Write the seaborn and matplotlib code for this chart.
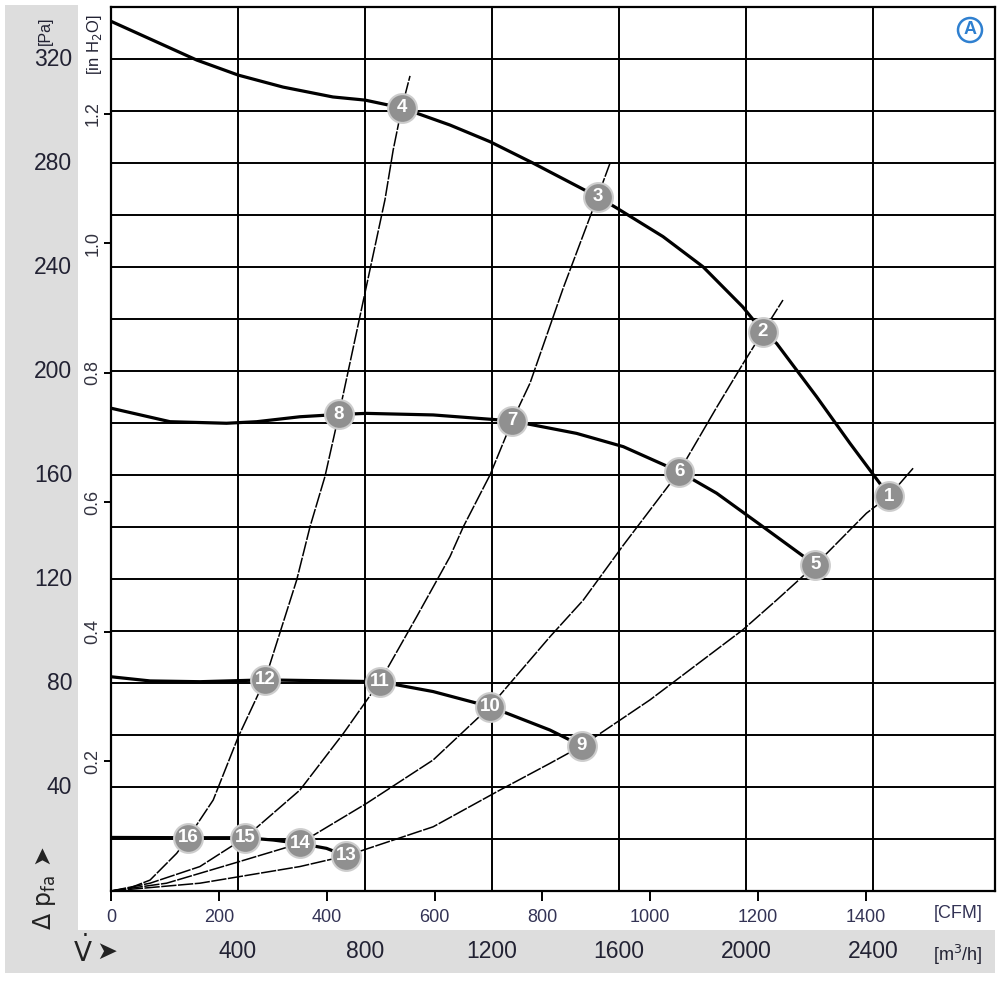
import matplotlib
matplotlib.use("Agg")
import matplotlib.pyplot as plt
import matplotlib.transforms as mtransforms
from matplotlib.patches import Rectangle, Circle
import seaborn as sns
import pandas as pd

sns.set_theme(style="white")
plt.rcParams["font.family"] = ["Liberation Sans Narrow", "Liberation Sans", "DejaVu Sans"]

# ---------------- data ----------------
# fan characteristic curves: flow [m3/h], static pressure [Pa]
main1_flow = [0, 270, 401, 542, 699, 800, 916, 1068, 1194, 1329, 1533, 1593, 1739, 1865, 1990, 2054, 2097, 2223, 2328, 2422, 2451]
main1_pa = [334.5, 319.6, 313.8, 309.2, 305.4, 304.2, 301.2, 294.6, 288.2, 280.0, 267.0, 262.7, 251.7, 240.1, 224.7, 215.1, 210.6, 190.1, 172.2, 156.8, 151.9]

main2_flow = [0, 186, 364, 459, 595, 718, 805, 1015, 1264, 1467, 1614, 1790, 1908, 2054, 2219]
main2_pa = [185.7, 180.5, 179.9, 180.5, 182.4, 183.3, 183.7, 183.1, 180.8, 176.0, 170.9, 161.3, 153.0, 140.1, 125.4]

main3_flow = [0, 123, 280, 485, 700, 847, 1015, 1194, 1383, 1483]
main3_pa = [82.4, 80.8, 80.5, 81.2, 80.8, 80.5, 76.7, 70.9, 61.9, 55.8]

main4_flow = [0, 243, 422, 511, 595, 679, 740]
main4_pa = [20.6, 20.5, 20.5, 19.6, 18.3, 16.4, 13.5]

# system (resistance) curves
sys1_flow = [0, 60, 123, 207, 243, 322, 401, 485, 585, 627, 674, 718, 863, 889, 916, 942]
sys1_pa = [0, 1.2, 4.2, 14.5, 20.5, 35.0, 59.3, 81.2, 119.6, 140.1, 159.4, 183.3, 265.8, 285.0, 301.2, 313.5]

sys2_flow = [0, 123, 280, 422, 595, 732, 847, 963, 1068, 1110, 1194, 1264, 1320, 1425, 1533, 1572]
sys2_pa = [0, 3.0, 9.4, 20.5, 38.8, 60.6, 80.5, 105.5, 128.6, 140.1, 160.0, 180.8, 195.3, 232.0, 267.0, 279.9]

sys3_flow = [0, 175, 385, 595, 805, 1015, 1194, 1383, 1488, 1614, 1790, 1908, 1992, 2054, 2117]
sys3_pa = [0, 3.0, 10.6, 18.3, 33.7, 50.4, 70.9, 97.8, 111.9, 133.0, 161.3, 186.0, 203.0, 215.1, 227.3]

sys4_flow = [0, 280, 595, 740, 1015, 1225, 1383, 1483, 1698, 1990, 2097, 2219, 2380, 2451, 2527]
sys4_pa = [0, 3.0, 9.4, 13.5, 24.7, 38.8, 49.1, 55.8, 73.5, 100.4, 111.9, 125.4, 145.3, 151.9, 162.6]

# operating points
pt_labels = ["1", "2", "3", "4", "5", "6", "7", "8", "9", "10", "11", "12", "13", "14", "15", "16"]
pt_flow = [2451, 2054, 1533, 916, 2219, 1790, 1264, 718, 1483, 1194, 847, 485, 740, 595, 422, 243]
pt_pa = [151.9, 215.1, 267.0, 301.2, 125.4, 161.3, 180.8, 183.3, 55.8, 70.9, 80.5, 81.2, 13.5, 18.3, 20.5, 20.5]

# axes ticks / labels
m3h_ticks = [400, 800, 1200, 1600, 2000, 2400]
pa_grid = [20, 40, 60, 80, 100, 120, 140, 160, 180, 200, 220, 240, 260, 280, 300, 320]
pa_labels = [40, 80, 120, 160, 200, 240, 280, 320]
cfm_ticks = [0, 200, 400, 600, 800, 1000, 1200, 1400]
inh2o_ticks = [0.2, 0.4, 0.6, 0.8, 1.0, 1.2]
M3H_PER_CFM = 1.699
PA_PER_INH2O = 249.09

# ---------------- figure ----------------
fig = plt.figure(figsize=(10, 10), dpi=100)
fig.patch.set_facecolor("white")
gray = "#dddddd"
fig.patches.append(Rectangle((0.005, 0.070), 0.073, 0.925, transform=fig.transFigure,
                             facecolor=gray, edgecolor="none", zorder=-10))
fig.patches.append(Rectangle((0.005, 0.027), 0.990, 0.043, transform=fig.transFigure,
                             facecolor=gray, edgecolor="none", zorder=-10))

ax = fig.add_axes([0.111, 0.109, 0.884, 0.884])
ax.set_facecolor("white")
ax.set_xlim(0, 2785)
ax.set_ylim(0, 340)
ax.set_xticks(m3h_ticks)
ax.set_yticks(pa_grid)
ax.grid(True, color="black", linewidth=1.4, zorder=1)
ax.tick_params(length=0, labelbottom=False, labelleft=False)
for s in ax.spines.values():
    s.set_color("black")
    s.set_linewidth(1.6)
ax.set_axisbelow(True)

sysstyle = dict(color="black", linewidth=1.1, dashes=(10, 1.0), estimator=None, sort=False, zorder=2)
for fx, fy in [(sys1_flow, sys1_pa), (sys2_flow, sys2_pa), (sys3_flow, sys3_pa), (sys4_flow, sys4_pa)]:
    sns.lineplot(x=fx, y=fy, ax=ax, **sysstyle)

for fx, fy in [(main1_flow, main1_pa), (main2_flow, main2_pa), (main3_flow, main3_pa), (main4_flow, main4_pa)]:
    sns.lineplot(x=fx, y=fy, ax=ax, color="black", linewidth=2.3, estimator=None, sort=False, zorder=3)

pts = pd.DataFrame({"flow": pt_flow, "pa": pt_pa, "label": pt_labels})
sns.scatterplot(data=pts, x="flow", y="pa", ax=ax, s=430, color="#909090",
                edgecolor="#cdcdcd", linewidth=1.5, zorder=5, legend=False)
for _, r in pts.iterrows():
    ax.text(r["flow"], r["pa"], r["label"], ha="center", va="center", color="white",
            fontsize=13.5, fontweight="bold", zorder=6)
ax.set_xlabel("")
ax.set_ylabel("")

# Pa labels in the gray strip
tr_y = mtransforms.blended_transform_factory(ax.transAxes, ax.transData)
for v in pa_labels:
    ax.text(-0.044, v, str(v), transform=tr_y, ha="right", va="center",
            fontsize=16.5, color="#222233", zorder=20)

# m3/h labels in the bottom gray strip
tr_x = mtransforms.blended_transform_factory(ax.transData, fig.transFigure)
for v in m3h_ticks:
    ax.text(v, 0.048, str(v), transform=tr_x, ha="center", va="center",
            fontsize=16.5, color="#222233", zorder=20)

# secondary CFM axis
secx = ax.secondary_xaxis("bottom", functions=(lambda m: m / M3H_PER_CFM, lambda c: c * M3H_PER_CFM))
secx.set_xticks(cfm_ticks)
secx.set_xticklabels([str(c) for c in cfm_ticks])
secx.tick_params(direction="out", length=7, width=1.4, pad=6, labelsize=13,
                 labelcolor="#333355", color="black")
secx.spines["bottom"].set_visible(False)

# secondary in H2O axis
secy = ax.secondary_yaxis("left", functions=(lambda p: p / PA_PER_INH2O, lambda i: i * PA_PER_INH2O))
secy.set_yticks(inh2o_ticks)
secy.set_yticklabels([f"{v:.1f}" for v in inh2o_ticks], rotation=90, va="center")
secy.tick_params(direction="out", length=5, width=1.4, pad=2, labelsize=13,
                 labelcolor="#333340", color="black")
secy.spines["left"].set_visible(False)

# unit / axis texts
fig.text(0.958, 0.087, "[CFM]", ha="center", va="center", fontsize=13, color="#333355")
fig.text(0.958, 0.045, "[m$^3$/h]", ha="center", va="center", fontsize=13, color="#222233")
fig.text(0.045, 0.969, "[Pa]", ha="center", va="center", fontsize=11.5, color="#222233", rotation=90)
fig.text(0.095, 0.955, "[in H$_2$O]", ha="center", va="center", fontsize=12, color="#222233", rotation=90)
fig.text(0.045, 0.112, r"$\Delta$ p$_{\rm fa}$ ➤", ha="center", va="center", fontsize=17,
         color="#222222", rotation=90, family=["DejaVu Sans"])
fig.text(0.083, 0.048, r"$\mathrm{\dot{V}}$", ha="center", va="center", fontsize=19, color="#222222",
         family=["DejaVu Sans"])
fig.text(0.107, 0.048, "➤", ha="center", va="center", fontsize=18, color="#222222",
         family=["DejaVu Sans"])

# "A" badge
fig.patches.append(Circle((0.970, 0.970), 0.012, transform=fig.transFigure, facecolor="white",
                          edgecolor="#2f80d0", linewidth=1.8, zorder=10))
fig.text(0.970, 0.970, "A", ha="center", va="center", fontsize=13, fontweight="bold",
         color="#2f80d0", zorder=11)

fig.savefig("out.png", dpi=100, facecolor="white")
